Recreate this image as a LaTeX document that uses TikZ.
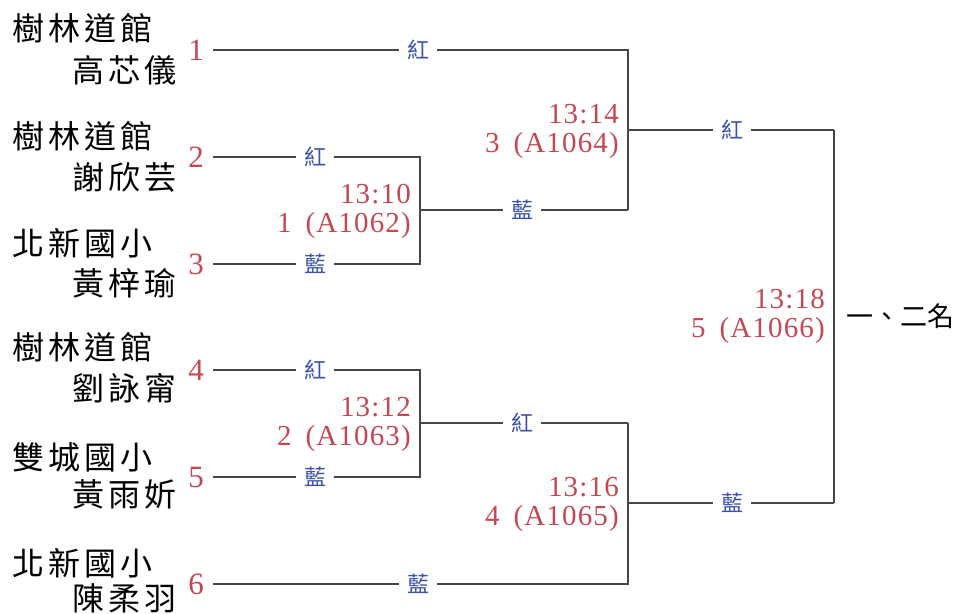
\documentclass[tikz,border=0pt]{standalone}
\usepackage{fontspec}
\setmainfont{Liberation Serif}
\newfontfamily\cjkfont[LetterSpace=13]{Noto Sans CJK TC}
\newfontfamily\cjksmall{Noto Sans CJK TC}
\newfontfamily\scorefont[LetterSpace=4]{Liberation Serif}
\definecolor{seedred}{RGB}{196,72,82}
\definecolor{cornerblue}{RGB}{58,82,172}
\definecolor{bracketgray}{RGB}{70,70,70}
\tikzset{
  namebox/.style={inner sep=0pt, font=\cjkfont\fontsize{32}{36}\selectfont, text=black},
  resultbox/.style={inner sep=0pt, font=\cjksmall\fontsize{27}{30}\selectfont, text=black},
  seedbox/.style={inner sep=0pt, font=\fontsize{31}{34}\selectfont, text=seedred},
  cornerbox/.style={fill=white, inner xsep=8pt, inner ysep=3pt, font=\cjksmall\fontsize{22}{24}\selectfont, text=cornerblue},
  scorebox/.style={inner sep=0pt, anchor=east, align=right, font=\scorefont\fontsize{29}{29}\selectfont, text=seedred},
  bracket/.style={draw=bracketgray, line width=1.4pt},
}
\newcommand\gapsp{\hspace{14pt}}
\begin{document}
\begin{tikzpicture}[x=1pt,y=-1pt]
\useasboundingbox (0,0) rectangle (968,613);
% names
\node[namebox, anchor=west] (a1) at (12,28) {樹林道館};
\node[namebox, anchor=east] (b1) at (177,70) {高芯儀};
\node[namebox, anchor=west] (a2) at (12,136) {樹林道館};
\node[namebox, anchor=east] (b2) at (177,177) {謝欣芸};
\node[namebox, anchor=west] (a3) at (12,243) {北新國小};
\node[namebox, anchor=east] (b3) at (177,283) {黃梓瑜};
\node[namebox, anchor=west] (a4) at (12,347) {樹林道館};
\node[namebox, anchor=east] (b4) at (177,388) {劉詠甯};
\node[namebox, anchor=west] (a5) at (12,457) {雙城國小};
\node[namebox, anchor=east] (b5) at (177,494) {黃雨妡};
\node[namebox, anchor=west] (a6) at (12,563) {北新國小};
\node[namebox, anchor=east] (b6) at (177,598) {陳柔羽};
% seeds
\node[seedbox] (n1) at (196,50) {1};
\node[seedbox] (n2) at (196,157) {2};
\node[seedbox] (n3) at (196,264) {3};
\node[seedbox] (n4) at (196,370) {4};
\node[seedbox] (n5) at (196,477) {5};
\node[seedbox] (n6) at (196,584) {6};
% bracket points
\coordinate (s1) at (213,50);
\coordinate (s2) at (213,157);
\coordinate (s3) at (213,264);
\coordinate (s4) at (213,370);
\coordinate (s5) at (213,477);
\coordinate (s6) at (213,584);
\coordinate (m1t) at (420,157);
\coordinate (m1b) at (420,264);
\coordinate (m1o) at (420,210);
\coordinate (m2t) at (420,370);
\coordinate (m2b) at (420,477);
\coordinate (m2o) at (420,423);
\coordinate (m3t) at (628,50);
\coordinate (m3b) at (628,210);
\coordinate (m3o) at (628,130);
\coordinate (m4t) at (628,423);
\coordinate (m4b) at (628,584);
\coordinate (m4o) at (628,503);
\coordinate (m5t) at (834,130);
\coordinate (m5b) at (834,503);
% lines
\draw[bracket] (s2) -- (m1t) -- (m1b) -- (s3);
\draw[bracket] (m1o) -- (m3b);
\draw[bracket] (s4) -- (m2t) -- (m2b) -- (s5);
\draw[bracket] (m2o) -- (m4t);
\draw[bracket] (s1) -- (m3t) -- (m3b);
\draw[bracket] (m3o) -- (m5t);
\draw[bracket] (s6) -- (m4b) -- (m4t);
\draw[bracket] (m4o) -- (m5b);
\draw[bracket] (m5t) -- (m5b);
% corner labels
\node[cornerbox] (c1) at (418,50) {紅};
\node[cornerbox] (c2) at (315,157) {紅};
\node[cornerbox] (c3) at (315,264) {藍};
\node[cornerbox] (c4) at (315,370) {紅};
\node[cornerbox] (c5) at (315,477) {藍};
\node[cornerbox] (c6) at (418,584) {藍};
\node[cornerbox] (c7) at (522,210) {藍};
\node[cornerbox] (c8) at (522,423) {紅};
\node[cornerbox] (c9) at (732,130) {紅};
\node[cornerbox] (c10) at (732,503) {藍};
% scores
\node[scorebox] (g1) at (411,211) {13:10\\1\gapsp(A1062)};
\node[scorebox] (g2) at (411,424) {13:12\\2\gapsp(A1063)};
\node[scorebox] (g3) at (619,131) {13:14\\3\gapsp(A1064)};
\node[scorebox] (g4) at (619,504) {13:16\\4\gapsp(A1065)};
\node[scorebox] (g5) at (825,316) {13:18\\5\gapsp(A1066)};
% result
\node[resultbox, anchor=west] (r) at (846,316) {一、二名};
\end{tikzpicture}
\end{document}
